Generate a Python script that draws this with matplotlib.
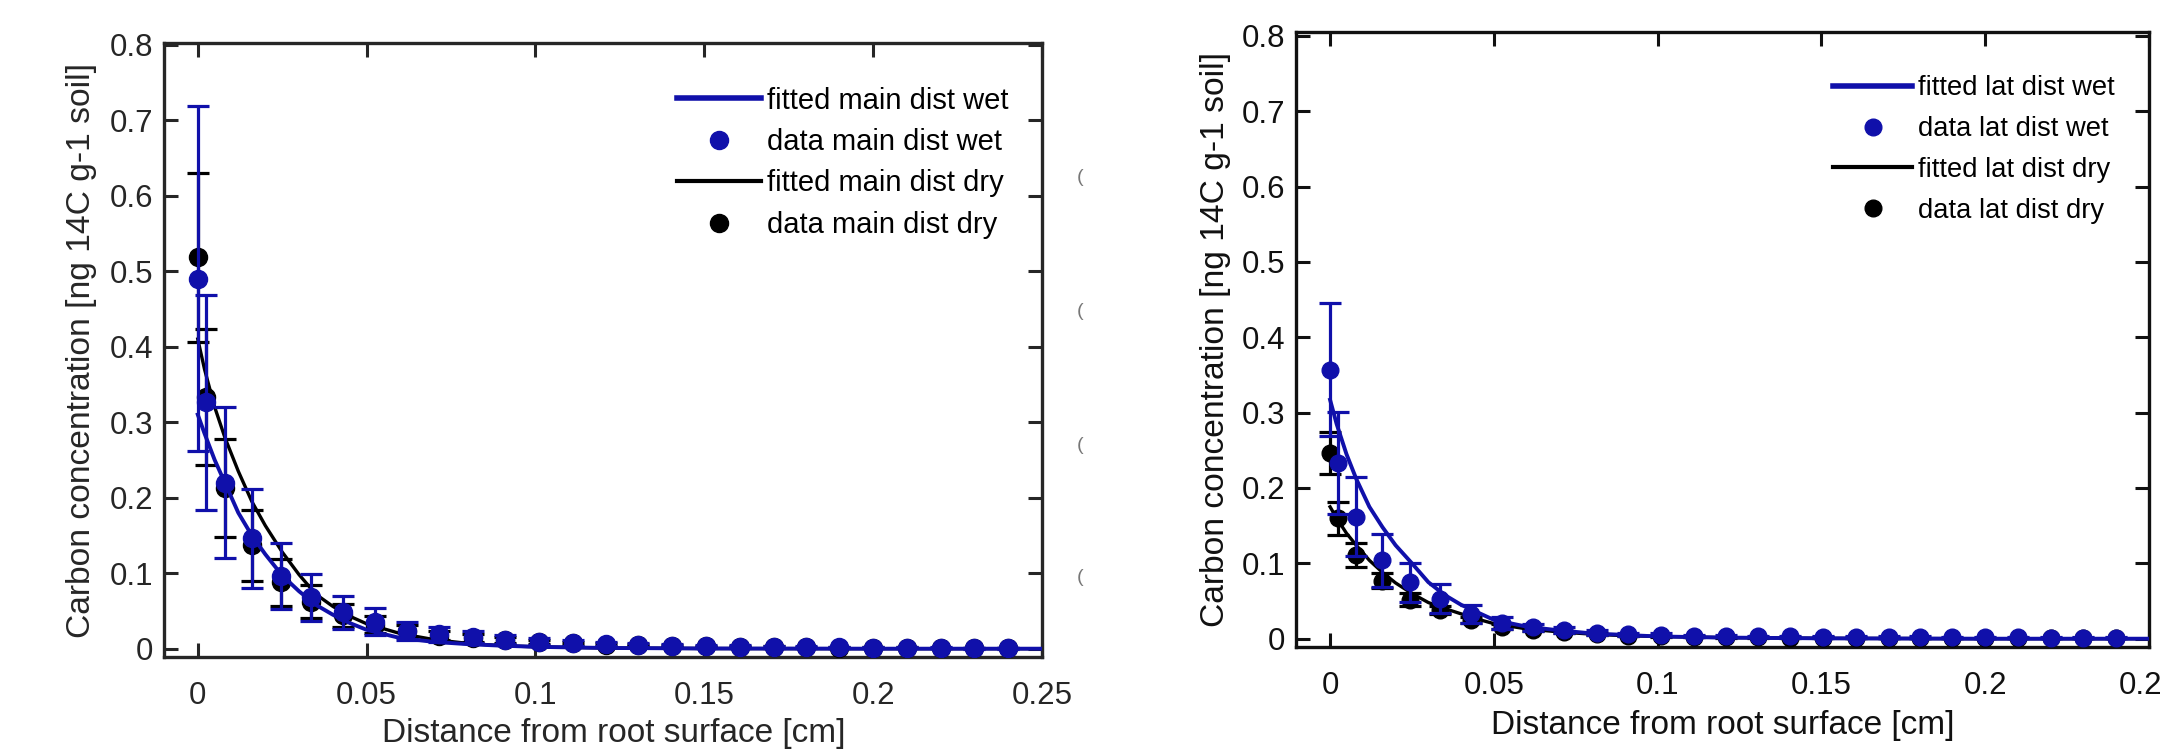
import matplotlib
matplotlib.use("Agg")
import matplotlib.pyplot as plt

plt.rcParams['font.family'] = ['Liberation Sans', 'DejaVu Sans']

# distances of the sampled points [cm]
x_pts = [0, 0.0025, 0.008, 0.016, 0.0245, 0.0335, 0.043, 0.0525, 0.062, 0.0715, 0.0815, 0.091,
         0.101, 0.111, 0.121, 0.1305, 0.1405, 0.1505, 0.1605, 0.1705, 0.18, 0.19, 0.2, 0.21,
         0.22, 0.23, 0.24]

# main root, data
main_wet = [0.49, 0.326, 0.22, 0.146, 0.096, 0.068, 0.048, 0.036, 0.024, 0.019, 0.015, 0.012,
            0.0095, 0.0076, 0.006, 0.0048, 0.004, 0.0033, 0.0028, 0.0024, 0.002, 0.0017,
            0.0014, 0.0012, 0.001, 0.0008, 0.0007]
main_wet_err = [0.228, 0.142, 0.1, 0.066, 0.044, 0.031, 0.022, 0.018, 0.012, 0.01, 0.008, 0.006,
                0.005, 0.004, 0.003, 0.0025, 0.002, 0.0018, 0.0015, 0.0013, 0.0011, 0.001,
                0.0009, 0.0008, 0.0007, 0.0006, 0.0005]
main_dry = [0.518, 0.333, 0.213, 0.137, 0.088, 0.062, 0.044, 0.032, 0.023, 0.017, 0.014, 0.011,
            0.009, 0.007, 0.0055, 0.0045, 0.0037, 0.003, 0.0026, 0.0022, 0.0018, 0.0015,
            0.0013, 0.0011, 0.0009, 0.0008, 0.0006]
main_dry_err = [0.112, 0.09, 0.065, 0.047, 0.031, 0.022, 0.015, 0.011, 0.008, 0.006, 0.005, 0.004,
                0.003, 0.0025, 0.002, 0.0015, 0.0012, 0.001, 0.0009, 0.0008, 0.0007, 0.0006,
                0.0005, 0.0005, 0.0004, 0.0004, 0.0003]

# lateral root, data
lat_wet = [0.357, 0.233, 0.162, 0.104, 0.075, 0.053, 0.033, 0.021, 0.015, 0.011, 0.008, 0.006,
           0.005, 0.004, 0.0035, 0.003, 0.003, 0.0028, 0.0026, 0.0024, 0.0022, 0.002, 0.002,
           0.0018, 0.0016, 0.0015, 0.0014]
lat_wet_err = [0.088, 0.068, 0.052, 0.035, 0.026, 0.019, 0.012, 0.008, 0.005, 0.004, 0.003,
               0.002, 0.002, 0.0015, 0.0012, 0.001, 0.001, 0.001, 0.0009, 0.0008, 0.0008,
               0.0007, 0.0007, 0.0006, 0.0006, 0.0005, 0.0005]
lat_dry = [0.246, 0.16, 0.111, 0.077, 0.052, 0.038, 0.025, 0.016, 0.012, 0.009, 0.006, 0.004,
           0.003, 0.0025, 0.002, 0.0018, 0.0016, 0.0014, 0.0012, 0.001, 0.001, 0.0009, 0.0008,
           0.0008, 0.0007, 0.0006, 0.0006]
lat_dry_err = [0.028, 0.022, 0.016, 0.01, 0.008, 0.005, 0.004, 0.003, 0.002, 0.0015, 0.0012,
               0.001, 0.0008, 0.0007, 0.0006, 0.0005, 0.0005, 0.0004, 0.0004, 0.0003, 0.0003,
               0.0003, 0.0003, 0.0002, 0.0002, 0.0002, 0.0002]

# fitted curves
fit_x = [0, 0.002, 0.005, 0.008, 0.012, 0.016, 0.02, 0.025, 0.03, 0.035, 0.04, 0.045, 0.05,
         0.06, 0.07, 0.08, 0.09, 0.1, 0.12, 0.15, 0.2, 0.25]
fit_main_wet = [0.31, 0.285, 0.25, 0.22, 0.18, 0.15, 0.125, 0.097, 0.076, 0.058, 0.045, 0.034,
                0.025, 0.014, 0.009, 0.006, 0.004, 0.0025, 0.001, 0.0003, 0.0, 0.0]
fit_main_dry = [0.41, 0.37, 0.32, 0.28, 0.235, 0.195, 0.163, 0.128, 0.098, 0.072, 0.056, 0.043,
                0.033, 0.02, 0.012, 0.007, 0.004, 0.0025, 0.001, 0.0002, 0.0, 0.0]
fit_lat_wet = [0.317, 0.285, 0.245, 0.212, 0.175, 0.148, 0.124, 0.1, 0.075, 0.058, 0.045, 0.035,
               0.025, 0.016, 0.011, 0.007, 0.005, 0.003, 0.0015, 0.0005, 0.0, 0.0]
fit_lat_dry = [0.175, 0.16, 0.14, 0.124, 0.104, 0.088, 0.074, 0.06, 0.048, 0.04, 0.033, 0.026,
               0.02, 0.013, 0.009, 0.006, 0.004, 0.003, 0.0015, 0.0005, 0.0, 0.0]

y_ticks = [0, 0.1, 0.2, 0.3, 0.4, 0.5, 0.6, 0.7, 0.8]
y_tick_labels = ['0', '0.1', '0.2', '0.3', '0.4', '0.5', '0.6', '0.7', '0.8']
x_ticks = [0, 0.05, 0.1, 0.15, 0.2, 0.25]
x_tick_labels = ['0', '0.05', '0.1', '0.15', '0.2', '0.25']

blue = '#1010aa'

fig = plt.figure(figsize=(21.6, 7.51), dpi=100)
ax1 = fig.add_axes([164 / 2160, 94 / 751, 878 / 2160, 614 / 751])
ax2 = fig.add_axes([1296 / 2160, 104 / 751, 853 / 2160, 615 / 751])


def draw_panel(ax, wet, wet_err, dry, dry_err, fit_wet, fit_dry, names, leg_size, leg_pos,
               leg_space, ms, spine_col, ylim, xlim):
    # dry first so the wet series sits on top
    ax.plot(fit_x, fit_dry, color='black', lw=2.4, zorder=2)
    ax.errorbar(x_pts, dry, yerr=dry_err, fmt='none', ecolor='black', elinewidth=2.3,
                capsize=8, capthick=2.3, zorder=3)
    ax.plot(x_pts, dry, 'o', color='black', ms=ms, zorder=4)
    ax.plot(fit_x, fit_wet, color=blue, lw=2.8, zorder=5)
    ax.errorbar(x_pts, wet, yerr=wet_err, fmt='none', ecolor=blue, elinewidth=2.3,
                capsize=8, capthick=2.3, zorder=6)
    ax.plot(x_pts, wet, 'o', color=blue, ms=ms, zorder=7)

    # legend handles in the original order
    h1, = ax.plot([], [], color=blue, lw=4)
    h2, = ax.plot([], [], 'o', color=blue, ms=ms)
    h3, = ax.plot([], [], color='black', lw=3)
    h4, = ax.plot([], [], 'o', color='black', ms=ms)
    ax.legend([h1, h2, h3, h4], names, loc='upper left', bbox_to_anchor=leg_pos,
              frameon=False, fontsize=leg_size, handlelength=2.9, handletextpad=0.2,
              labelspacing=leg_space, borderpad=0, borderaxespad=0, numpoints=1)

    ax.set_xlim(*xlim)
    ax.set_ylim(*ylim)
    ax.set_xticks(x_ticks)
    ax.set_xticklabels(x_tick_labels)
    ax.set_yticks(y_ticks)
    ax.set_yticklabels(y_tick_labels)
    ax.tick_params(direction='in', top=True, right=True, length=10, width=2.2,
                   labelsize=22.5, colors=spine_col)
    ax.tick_params(axis='x', pad=17)
    ax.tick_params(axis='y', pad=8)
    for s in ax.spines.values():
        s.set_linewidth(2.4)
        s.set_color(spine_col)

    ax.set_xlabel('Distance from root surface [cm]', fontsize=24, color=spine_col, va='center')
    ax.set_ylabel('Carbon concentration [ng 14C g-1 soil]', fontsize=24.2, color=spine_col,
                  va='center', ha='center')


draw_panel(ax1, main_wet, main_wet_err, main_dry, main_dry_err, fit_main_wet, fit_main_dry,
           ['fitted main dist wet', 'data main dist wet', 'fitted main dist dry',
            'data main dist dry'], 21, (0.584, 0.929), 0.46, 13, '#262626',
           (-0.011, 0.802), (-0.01, 0.25))
draw_panel(ax2, lat_wet, lat_wet_err, lat_dry, lat_dry_err, fit_lat_wet, fit_lat_dry,
           ['fitted lat dist wet', 'data lat dist wet', 'fitted lat dist dry',
            'data lat dist dry'], 19.7, (0.6295, 0.9295), 0.54, 12, '#111111',
           (-0.011, 0.805), (-0.0104, 0.25))

ax1.xaxis.set_label_coords(0.512, -0.124)
ax1.yaxis.set_label_coords(-0.094, 0.5)
ax2.xaxis.set_label_coords(0.5, -0.128)
ax2.yaxis.set_label_coords(-0.094, 0.5)

# bits of cropped labels from a neighbouring panel
for yy in [178, 312, 445, 578]:
    fig.text(1077 / 2160, 1 - yy / 751, '(', fontsize=14, color='#777777',
             ha='left', va='center')

fig.savefig('out.png', dpi=100)
